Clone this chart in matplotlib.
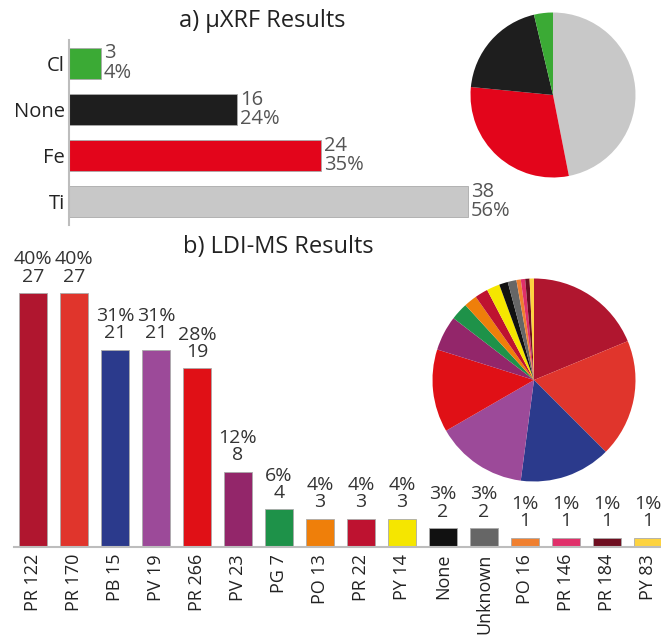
import matplotlib
matplotlib.use("Agg")
import matplotlib.pyplot as plt
import numpy as np

plt.rcParams["font.family"] = ["Open Sans", "DejaVu Sans"]

N_SAMPLES = 68

# ---------------- a) uXRF ----------------
xrf_labels = ["Cl", "None", "Fe", "Ti"]
xrf_counts = [3, 16, 24, 38]
xrf_colors = ["#3BAA35", "#1E1E1E", "#E3051B", "#C8C8C8"]

# ---------------- b) LDI-MS ----------------
ldi_labels = ["PR 122", "PR 170", "PB 15", "PV 19", "PR 266", "PV 23", "PG 7",
              "PO 13", "PR 22", "PY 14", "None", "Unknown", "PO 16", "PR 146",
              "PR 184", "PY 83"]
ldi_counts = [27, 27, 21, 21, 19, 8, 4, 3, 3, 3, 2, 2, 1, 1, 1, 1]
ldi_colors = ["#B0162F", "#E0352C", "#2B3A8C", "#9C4A99", "#E01016", "#93266A",
              "#1E9249", "#EF7F0A", "#BE1230", "#F5E600", "#111111", "#666666",
              "#F08030", "#E0306A", "#6E0E20", "#FDD340"]

AXIS_GREY = "#BDBDBD"
TEXT_GREY = "#555555"


def pct(n):
    return f"{round(100 * n / N_SAMPLES)}%"


W, H = 661, 644
fig = plt.figure(figsize=(W / 100, H / 100), dpi=100)


def px_axes(x0, y0, x1, y1):
    """Axes from a pixel box, origin at top-left."""
    return fig.add_axes([x0 / W, 1 - y1 / H, (x1 - x0) / W, (y1 - y0) / H])


def draw_pie(ax, counts, colors):
    ax.pie(counts, colors=colors, startangle=90, counterclock=False,
           wedgeprops=dict(linewidth=0))
    ax.set_xlim(-1, 1)
    ax.set_ylim(-1, 1)
    ax.set_aspect("equal")
    ax.axis("off")


# --- a) horizontal bars
ax1 = px_axes(69, 40, 69 + 420, 225)
y = np.arange(len(xrf_counts))
ax1.barh(y, xrf_counts, height=0.67, color=xrf_colors, edgecolor="#AAAAAA", linewidth=0.6)
ax1.set_xlim(0, 40)
ax1.set_ylim(3.5, -0.5)
ax1.set_yticks(y)
ax1.set_yticklabels(xrf_labels, fontsize=14.5, color="#222222")
ax1.tick_params(axis="y", length=0, pad=3)
ax1.set_xticks([])
for s in ("top", "right", "bottom"):
    ax1.spines[s].set_visible(False)
ax1.spines["left"].set_color(AXIS_GREY)
ax1.spines["left"].set_linewidth(1.5)
ax1.patch.set_alpha(0)
for yi, n in zip(y, xrf_counts):
    ax1.text(n + 0.3, yi, f"{n}\n{pct(n)}", ha="left", va="center",
             fontsize=14.5, color=TEXT_GREY, linespacing=0.95)

fig.text(262 / W, 1 - 21 / H, "a) µXRF Results", ha="center", va="center",
         fontsize=17, color="#222222")

# pie runs clockwise from the top: Ti, Fe, None, Cl
draw_pie(px_axes(470.5, 12.5, 635.5, 177.5), xrf_counts[::-1], xrf_colors[::-1])

# --- b) vertical bars
ax2 = px_axes(14, 265, W, 547)
x = np.arange(len(ldi_counts))
ax2.bar(x, ldi_counts, width=0.68, color=ldi_colors, edgecolor="#AAAAAA", linewidth=0.6)
ax2.set_xlim(-0.463, 15.32)
ax2.set_ylim(0, 30)
ax2.set_xticks(x)
ax2.set_xticklabels(ldi_labels, rotation=90, fontsize=13, color="#222222")
ax2.tick_params(axis="x", length=0, pad=5)
ax2.set_yticks([])
for s in ("top", "right", "left"):
    ax2.spines[s].set_visible(False)
ax2.spines["bottom"].set_color(AXIS_GREY)
ax2.spines["bottom"].set_linewidth(1.5)
ax2.patch.set_alpha(0)
for xi, n in zip(x, ldi_counts):
    ax2.text(xi, n + 0.8, f"{pct(n)}\n{n}", ha="center", va="bottom",
             fontsize=14, color="#333333", linespacing=0.95)

fig.text(278 / W, 1 - 247 / H, "b) LDI-MS Results", ha="center", va="center",
         fontsize=17, color="#222222")

draw_pie(px_axes(432.5, 278.5, 635.5, 481.5), ldi_counts, ldi_colors)

fig.savefig("out.png", dpi=100)
